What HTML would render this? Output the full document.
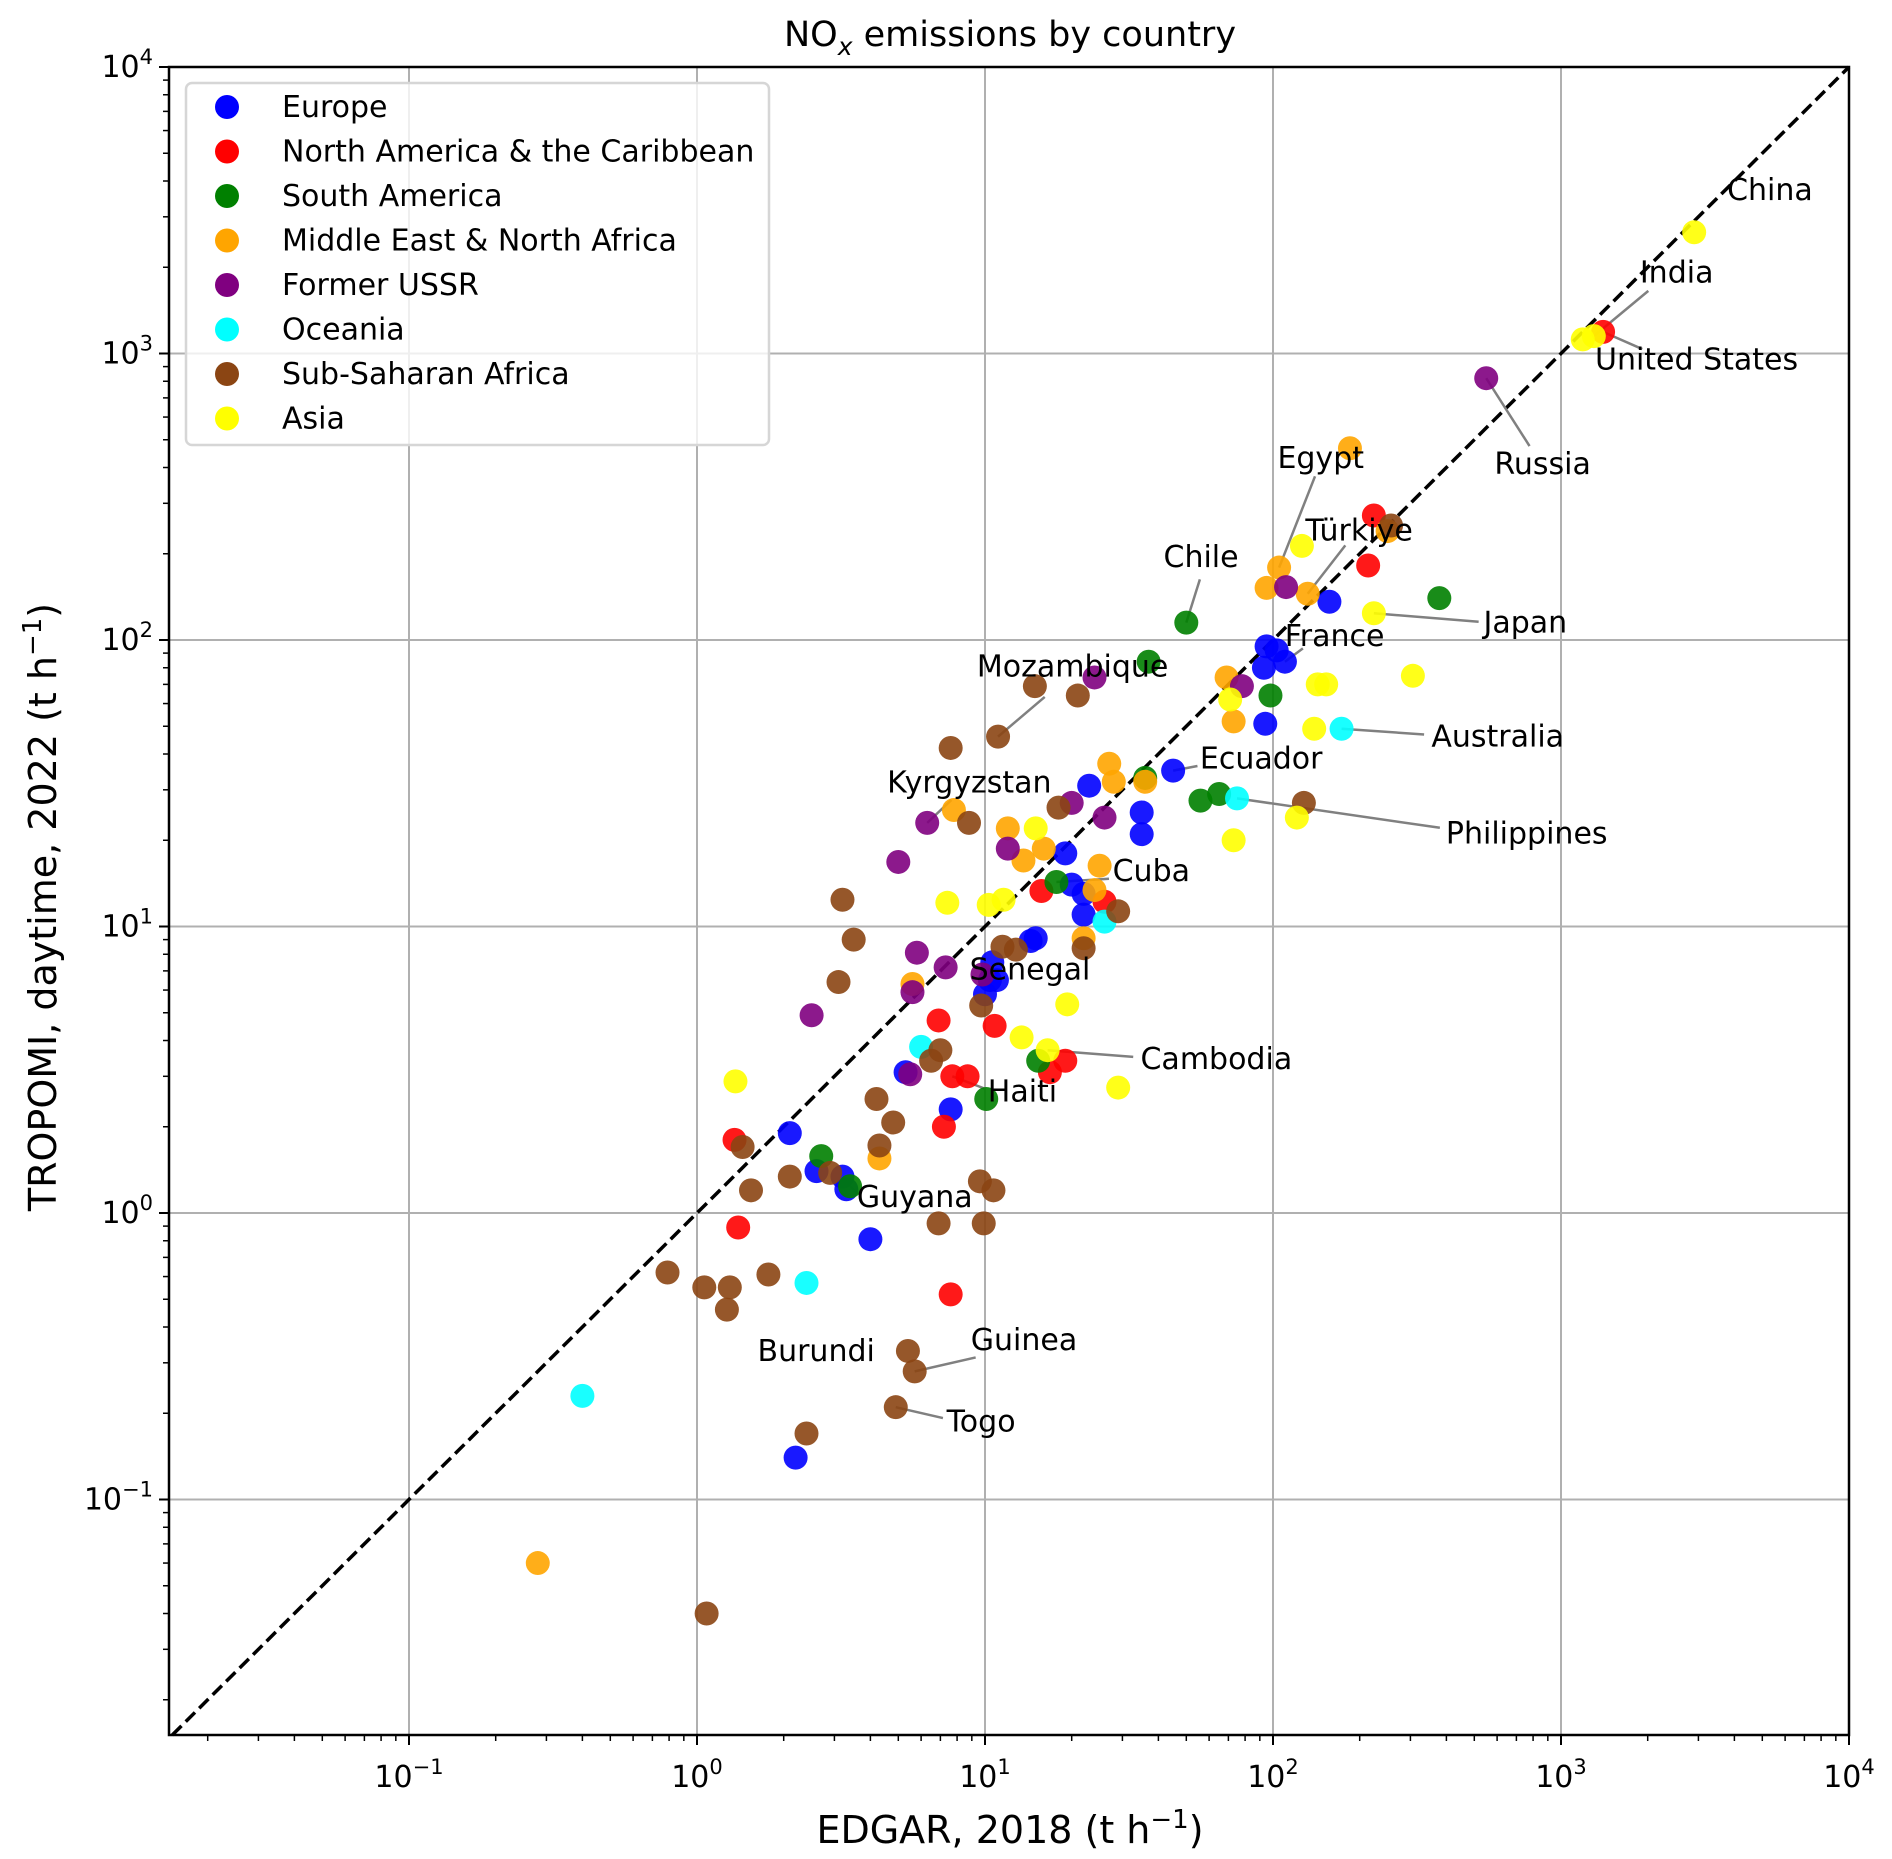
<!DOCTYPE html>
<html><head><meta charset="utf-8">
<style>
html,body{margin:0;padding:0;background:#fff;}
svg{display:block;font-family:"DejaVu Sans","Liberation Sans",sans-serif;}
</style></head>
<body>
<svg id="chart" width="1892" height="1859" viewBox="0 0 1892 1859" xmlns="http://www.w3.org/2000/svg">
<g id="grid"></g>
<g id="diag"></g>
<g id="leaders"></g>
<g id="points"></g>
<g id="labels"></g>
<g id="axes"></g>
<g id="legend"></g>
<text x="1010" y="46" text-anchor="middle" font-size="35">NO<tspan font-style="italic" font-size="25" dy="9">x</tspan><tspan dy="-9"> emissions by country</tspan></text>
<text x="1010" y="1843" text-anchor="middle" font-size="38">EDGAR, 2018 (t h<tspan font-size="26" dy="-15">−1</tspan><tspan dy="15">)</tspan></text>
<text transform="translate(56,907) rotate(-90)" text-anchor="middle" font-size="38">TROPOMI, daytime, 2022 (t h<tspan font-size="26" dy="-15">−1</tspan><tspan dy="15">)</tspan></text>
</svg>
<script>
const regions = ["Europe","North America & the Caribbean","South America","Middle East & North Africa","Former USSR","Oceania","Sub-Saharan Africa","Asia"];
const regionColors = ["#0000ff","#ff0000","#008000","#ffa500","#800080","#00ffff","#8b4513","#ffff00"];
const europeX = [157,95,93,110,103,94,45,35,35,23,19,20,22,22,14.4,15,10.4,11,10.6,10,5.3,7.6,2.1,2.6,3.2,3.3,4.0,2.2];
const europeY = [136,95,80,84,92,51,35,25,21,31,18,14,13,11,8.9,9.1,6.5,6.5,7.5,5.8,3.1,2.3,1.9,1.4,1.34,1.21,0.81,0.14];
const namericaX = [1400,224,214,26,15.7,10.8,6.9,7.7,8.7,19,16.8,7.2,1.35,1.39,7.6];
const namericaY = [1190,272,182,12.2,13.3,4.5,4.7,3.0,3.0,3.4,3.1,2.0,1.8,0.89,0.52];
const samericaX = [378,50,37,98,56,65,36,17.7,15.3,10.1,2.7,3.4];
const samericaY = [140,115,84,64,27.5,29,33,14.3,3.4,2.5,1.58,1.24];
const meX = [185,250,105,95,132,69,73,36,27,28,7.8,12,16,13.6,25,24,22,5.6,4.3,0.28];
const meY = [467,240,179,152,145,74,52,32,37,32,25.5,22,18.7,17,16.3,13.4,9.1,6.3,1.55,0.06];
const ussrX = [550,111,78,24,20,26,12,6.3,5.0,5.8,7.3,5.6,9.8,5.5,2.5];
const ussrY = [820,153,69,74,27,24,18.7,23,16.8,8.1,7.2,5.9,6.8,3.05,4.9];
const oceaniaX = [173,75,26,6.0,2.4,0.40];
const oceaniaY = [49,28,10.4,3.8,0.57,0.23];
const ssaX = [257,128,14.9,21,11.1,7.6,8.8,18,29,11.5,12.8,22,3.2,3.1,3.5,9.7,7.0,6.5,4.2,4.8,4.3,1.44,1.54,2.1,2.9,9.6,10.7,6.9,9.9,0.79,1.06,1.3,1.27,1.77,5.4,5.7,4.9,2.4,1.08];
const ssaY = [251,27,69,64,46,42,23,26,11.3,8.5,8.3,8.4,12.4,6.4,9.0,5.3,3.7,3.4,2.5,2.07,1.72,1.7,1.2,1.34,1.38,1.29,1.2,0.92,0.92,0.62,0.55,0.55,0.46,0.61,0.33,0.28,0.21,0.17,0.04];
const asiaX = [2900,1190,1300,126,224,306,143,153,139,71,73,121,15,11.6,10.3,7.4,19.3,13.4,16.5,29,1.36];
const asiaY = [2650,1120,1150,213,124,75,70,70,49,62,20,24,22,12.4,11.9,12.1,5.35,4.1,3.7,2.74,2.88];
const seriesX = [europeX,namericaX,samericaX,meX,ussrX,oceaniaX,ssaX,asiaX];
const seriesY = [europeY,namericaY,samericaY,meY,ussrY,oceaniaY,ssaY,asiaY];
const xTickExps = [-1,0,1,2,3,4];
const yTickExps = [-1,0,1,2,3,4];
const annNames = ["China","India","United States","Russia","Egypt","Türkiye","Chile","Japan","France","Mozambique","Ecuador","Australia","Kyrgyzstan","Philippines","Cuba","Senegal","Cambodia","Haiti","Guyana","Burundi","Guinea","Togo"];
const annPtX = [2900,1300,1400,550,105,132,50,224,110,11.1,45,173,6.3,75,17.7,9.8,16.5,7.7,3.4,null,5.7,4.9];
const annPtY = [2650,1150,1190,820,179,145,115,124,84,46,35,49,23,28,14.3,6.8,3.7,3.0,1.24,null,0.28,0.21];

const NS="http://www.w3.org/2000/svg";
const L=169,R=1849,T=67,B=1735;
const X0=697,DX=288,Y0=1213,DY=286.5;
function xs(v){return X0+DX*Math.log10(v);}
function ys(v){return Y0-DY*Math.log10(v);}
function mk(tag,attrs,parent){const e=document.createElementNS(NS,tag);for(const k in attrs)e.setAttribute(k,attrs[k]);parent.appendChild(e);return e;}
const S=1.212;
const grid=document.getElementById('grid'),axes=document.getElementById('axes');
const decX=-(X0-L)/DX, decY=-(B-Y0)/DY;
for(const e of xTickExps){const x=xs(Math.pow(10,e));
 if(e<4){const g=mk('line',{x1:x,x2:x,y1:T,y2:B,stroke:'#b0b0b0','stroke-width':2},grid);
 
 }
 const t=mk('text',{x:x,y:B+52,'text-anchor':'middle','font-size':30},axes);
 
 
 t.innerHTML='10<tspan font-size="21" dy="-13">'+(e<0?'−'+(-e):e)+'</tspan>';
 mk('line',{x1:x,x2:x,y1:B,y2:B+10,stroke:'#000','stroke-width':2},axes);}
for(const e of yTickExps){const y=ys(Math.pow(10,e));
 if(e<4){const g=mk('line',{x1:L,x2:R,y1:y,y2:y,stroke:'#b0b0b0','stroke-width':2},grid);
 
 }
 const t=mk('text',{x:L-16,y:y+10,'text-anchor':'end','font-size':30},axes);
 
 
 t.innerHTML='10<tspan font-size="21" dy="-13">'+(e<0?'−'+(-e):e)+'</tspan>';
 mk('line',{x1:L-10,x2:L,y1:y,y2:y,stroke:'#000','stroke-width':2},axes);}
for(let e=-2;e<4;e++)for(let m=2;m<10;m++){const v=m*Math.pow(10,e);
 const x=xs(v);if(x>L&&x<R)mk('line',{x1:x,x2:x,y1:B,y2:B+6,stroke:'#000','stroke-width':1.5},axes);
 const y=ys(v);if(y>T&&y<B)mk('line',{x1:L-6,x2:L,y1:y,y2:y,stroke:'#000','stroke-width':1.5},axes);}
mk('rect',{x:L,y:T,width:R-L,height:B-T,fill:'none',stroke:'#000','stroke-width':2.5},axes);
const dmin=Math.pow(10,Math.max(decX,decY));
const dl=mk('line',{x1:xs(dmin),y1:ys(dmin),x2:xs(1e4),y2:ys(1e4),stroke:'#000','stroke-width':3.5,'stroke-dasharray':'13,6'},document.getElementById('diag'));


const pts=document.getElementById('points');
seriesX.forEach((xsr,i)=>{xsr.forEach((v,j)=>{
 const c=mk('circle',{cx:xs(v),cy:ys(seriesY[i][j]),r:12,fill:regionColors[i],'fill-opacity':0.9},pts);
 
 });});
const annTextPos=[[1425,165],[1353,233],[1316,305],[1233,391],[1054,386],[1077,446],[960,468],[1224,522],[1060,533],[806,558],[990,634],[1181,616],[732,654],[1193,696],[918,727],[800,808],[941,882],[815,909],[707,996],[625,1123],[801,1114],[781,1181]];
const annLineEnd=[null,[1360,240],[1355,288],[1262,368],[1085,393],[1110,450],[990,478],[1220,513],[1075,535],[862,575],[988,632],[1175,606],[785,660],[1188,683],[915,725],[810,800],[935,872],[812,898],[708,985],null,[805,1120],[778,1170]];
const ld=document.getElementById('leaders'),lb=document.getElementById('labels');
annNames.forEach((n,i)=>{
 if(annLineEnd[i]&&annPtX[i]!=null){const l=mk('line',{x1:xs(annPtX[i]),y1:ys(annPtY[i]),x2:annLineEnd[i][0]*S,y2:annLineEnd[i][1]*S,stroke:'#808080','stroke-width':2.5},ld);
 
 }
 const t=mk('text',{x:annTextPos[i][0]*S,y:annTextPos[i][1]*S,'font-size':30},lb);
 t.textContent=n;
 
 });
const lg=document.getElementById('legend');
const lr=mk('rect',{x:186,y:83,width:583,height:362,rx:6,fill:'#fff','fill-opacity':0.8,stroke:'#d6d6d6','stroke-width':2.5},lg);


regions.forEach((r,i)=>{const y=107+i*44.5;
 const c=mk('circle',{cx:227,cy:y,r:12,fill:regionColors[i]},lg);
 
 
 const t=mk('text',{x:282,y:y+10,'font-size':30},lg);
 t.textContent=r;
 
 });
</script>
</body></html>
